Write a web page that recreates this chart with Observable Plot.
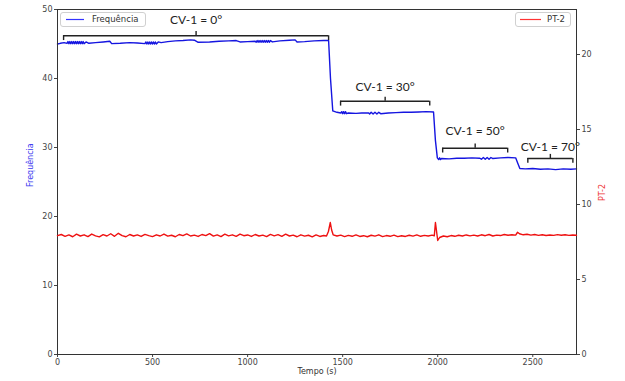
<!DOCTYPE html>
<html>
<head>
<meta charset="utf-8">
<script src="https://cdn.jsdelivr.net/npm/d3@7"></script>
<script src="https://cdn.jsdelivr.net/npm/@observablehq/plot@0.6"></script>
<style>
  body { margin: 0; background: #fff; }
  #wrap { position: relative; width: 625px; height: 381px; overflow: hidden; }
  #wrap > svg { position: absolute; left: 0; top: 0; }
  .legend { position: absolute; border: 1px solid #d0d0d0; border-radius: 3px; background: rgba(255,255,255,0.85);
            font: 8.5px "DejaVu Sans", sans-serif; color: #333; box-sizing: border-box; height: 15px; z-index: 5; }
  .legend svg { position: absolute; left: 0; top: 0; }
  .legend .lb { position: absolute; top: 1px; }
</style>
</head>
<body>
<div id="wrap"></div>
<script>
// Frequência (left axis) – [tempo (s), valor]
const frequencia = [
  [0,45.0],[15,45.1],[35,45.2],[50,45.1],[55,45.35],[60,45.05],[65,45.35],[70,45.05],[75,45.35],[80,45.05],[85,45.35],[90,45.05],
  [95,45.35],[100,45.05],[105,45.35],[110,45.05],[115,45.35],[120,45.05],[125,45.35],[130,45.05],[135,45.35],[140,45.05],[150,45.3],
  [165,45.1],[200,45.2],[240,45.3],[275,45.4],[285,45.05],[330,45.1],[380,45.2],[420,45.15],[460,45.05],[465,45.3],
  [470,45.0],[475,45.3],[480,45.0],[485,45.3],[490,45.0],[495,45.3],[500,45.0],[505,45.3],[510,45.0],[515,45.3],
  [520,45.0],[530,45.3],[545,45.2],[580,45.35],[620,45.45],[660,45.5],[700,45.6],[720,45.55],[740,45.25],[800,45.3],
  [850,45.4],[900,45.45],[940,45.5],[960,45.3],[1000,45.35],[1040,45.4],[1045,45.25],[1050,45.5],[1055,45.25],[1060,45.5],
  [1065,45.25],[1070,45.5],[1075,45.25],[1080,45.5],[1085,45.25],[1090,45.5],[1095,45.25],[1100,45.5],[1105,45.25],
  [1110,45.5],[1115,45.25],[1120,45.5],[1130,45.3],[1170,45.45],[1220,45.55],[1250,45.6],[1260,45.3],[1300,45.35],
  [1350,45.45],[1400,45.5],[1426,45.5],[1436,40.0],[1448,35.3],[1470,35.1],[1490,35.0],[1495,35.2],[1500,34.9],
  [1505,35.2],[1510,34.9],[1515,35.2],[1520,34.9],[1530,35.0],[1570,34.95],[1600,35.0],[1637,35.0],[1642,34.85],
  [1650,35.1],[1660,34.85],[1670,35.1],[1680,34.85],[1690,35.1],[1700,34.9],[1740,35.0],[1780,35.05],[1820,35.1],
  [1860,35.1],[1900,35.15],[1940,35.2],[1978,35.15],[1988,31.0],[1998,28.5],[2005,28.25],[2010,28.5],[2015,28.25],
  [2020,28.4],[2060,28.35],[2100,28.45],[2140,28.45],[2180,28.5],[2220,28.45],[2230,28.3],[2240,28.55],[2250,28.3],
  [2260,28.55],[2270,28.3],[2280,28.55],[2290,28.4],[2330,28.5],[2370,28.55],[2410,28.5],[2420,27.8],[2432,26.95],
  [2460,26.9],[2500,26.95],[2540,26.85],[2580,26.9],[2620,26.8],[2660,26.9],[2700,26.85],[2730,26.9]
];

// PT-2 (right axis) – [tempo (s), valor]
const pt2 = [
  [0,7.92],[20,8.0],[40,7.88],[60,7.97],[80,7.85],[100,8.02],[120,7.9],[140,7.98],[160,7.86],[180,8.03],[200,7.91],
  [220,7.84],[240,7.99],[260,7.9],[280,8.05],[300,7.88],[320,8.08],[340,7.92],[360,7.85],[380,8.0],[400,7.9],[420,7.97],
  [440,7.87],[460,8.01],[480,7.93],[500,7.86],[520,7.98],[540,7.9],[560,8.03],[580,7.89],[600,7.95],[620,7.85],[640,8.0],
  [660,7.92],[680,8.04],[700,7.9],[720,7.96],[740,7.87],[760,8.0],[780,7.93],[800,8.06],[820,7.89],[840,7.97],[860,7.86],
  [880,8.02],[900,7.91],[920,7.98],[940,7.88],[960,8.03],[980,7.92],[1000,7.97],[1020,7.87],[1040,8.0],[1060,7.9],
  [1080,7.96],[1100,7.86],[1120,8.01],[1140,7.91],[1160,7.99],[1180,7.88],[1200,8.02],[1220,7.9],[1240,7.96],[1260,7.85],
  [1280,7.98],[1300,7.89],[1320,7.95],[1340,7.84],[1360,7.97],[1380,7.87],[1400,7.93],[1415,7.9],[1425,8.2],[1435,8.8],
  [1442,8.3],[1450,7.98],[1470,7.9],[1490,7.96],[1510,7.86],[1530,7.94],[1550,7.88],[1570,7.97],[1590,7.87],[1610,7.92],
  [1630,7.85],[1650,7.95],[1670,7.89],[1690,7.98],[1710,7.86],[1730,7.93],[1750,7.88],[1770,7.96],[1790,7.86],[1810,7.92],
  [1830,7.87],[1850,7.95],[1870,7.89],[1890,7.97],[1910,7.88],[1930,7.94],[1950,7.9],[1970,7.96],[1982,7.92],[1988,8.8],
  [1994,8.2],[2000,7.6],[2010,7.8],[2030,7.9],[2050,7.85],[2070,7.93],[2090,7.88],[2110,7.95],[2130,7.9],[2150,7.97],
  [2170,7.91],[2190,7.96],[2210,7.9],[2230,7.98],[2250,7.92],[2270,8.0],[2290,7.9],[2310,7.96],[2330,7.93],[2350,8.0],
  [2370,7.95],[2390,7.98],[2410,7.96],[2420,8.15],[2430,8.05],[2450,7.98],[2470,8.02],[2490,7.96],[2510,8.0],[2530,7.94],
  [2550,7.98],[2570,7.93],[2590,7.97],[2610,7.94],[2630,7.99],[2650,7.95],[2670,7.98],[2690,7.94],[2710,7.97],[2730,7.95]
];

// Annotation brackets: label, start, end, bracket level, label level (left-axis units)
const bracketLabels = ["CV-1 = 0°", "CV-1 = 30°", "CV-1 = 50°", "CV-1 = 70°"];
const bracketStart  = [32, 1489, 2026, 2474];
const bracketEnd    = [1426, 1958, 2368, 2711];
const bracketLevel  = [46.2, 36.7, 29.9, 28.4];
const labelLevel    = [48.4, 38.7, 32.3, 30.1];

const leftTicks  = [0, 10, 20, 30, 40, 50];
const rightTicks = [0, 5, 10, 15, 20];
const xTicks     = [0, 500, 1000, 1500, 2000, 2500];

const brackets = bracketLabels.map((label, i) => ({
  label, x1: bracketStart[i], x2: bracketEnd[i], y: bracketLevel[i], ly: labelLevel[i],
  xm: (bracketStart[i] + bracketEnd[i]) / 2
}));

const W = 625, H = 381;
const margins = {marginLeft: 57, marginRight: 49, marginTop: 9, marginBottom: 27};
const xDomain = [0, 2730];
const baseStyle = {fontFamily: "DejaVu Sans, sans-serif", fontSize: "8px", color: "#333", background: "transparent", overflow: "visible"};

const main = Plot.plot({
  width: W, height: H, ...margins,
  style: baseStyle,
  x: {domain: xDomain},
  y: {domain: [0, 50]},
  marks: [
    Plot.axisX({ticks: xTicks, tickFormat: d => String(d), tickSize: 3, tickPadding: 2, label: null, color: "#444"}),
    Plot.axisY({ticks: leftTicks, tickFormat: d => String(d), tickSize: 3, tickPadding: 2, label: null, color: "#444"}),
    Plot.lineY(frequencia, {x: d => d[0], y: d => d[1], stroke: "#1515e0", strokeWidth: 1.4}),
    // brackets
    Plot.ruleY(brackets, {y: "y", x1: "x1", x2: "x2", stroke: "#222", strokeWidth: 1.4}),
    Plot.ruleX(brackets, {x: "x1", y1: d => d.y - 0.7, y2: "y", stroke: "#222", strokeWidth: 1.4}),
    Plot.ruleX(brackets, {x: "x2", y1: d => d.y - 0.7, y2: "y", stroke: "#222", strokeWidth: 1.4}),
    Plot.ruleX(brackets, {x: "xm", y1: "y", y2: d => d.y + 0.6, stroke: "#222", strokeWidth: 1.4}),
    Plot.text(brackets, {x: "xm", y: "ly", text: "label", fontFamily: "Lato, sans-serif", fontSize: 12, fill: "#222"}),
    Plot.text(["Frequência"], {frameAnchor: "left", rotate: -90, dx: -27, dy: 5, fill: "#3a3af0", fontSize: 8}),
    Plot.text(["Tempo (s)"], {frameAnchor: "bottom", dy: 19, fill: "#333", fontSize: 8}),
    Plot.frame({stroke: "#333", strokeWidth: 1})
  ]
});

const right = Plot.plot({
  width: W, height: H, ...margins,
  style: baseStyle,
  x: {domain: xDomain, axis: null},
  y: {domain: [0, 23], axis: null},
  marks: [
    Plot.axisY({anchor: "right", ticks: rightTicks, tickFormat: d => String(d), tickSize: 3, tickPadding: 2, label: null, color: "#444"}),
    Plot.lineY(pt2, {x: d => d[0], y: d => d[1], stroke: "#ee1111", strokeWidth: 1.4}),
    Plot.text(["PT-2"], {frameAnchor: "right", rotate: -90, dx: 26, dy: 2, fill: "#ee3333", fontSize: 8})
  ]
});

const wrap = document.getElementById("wrap");
wrap.appendChild(main);
wrap.appendChild(right);

function legend(left, top, width, color, label, swLeft, swWidth, lbLeft) {
  const d = document.createElement("div");
  d.className = "legend";
  d.style.left = left + "px"; d.style.top = top + "px"; d.style.width = width + "px";
  d.innerHTML = `<svg width="${width}" height="13"><line x1="${swLeft}" x2="${swLeft + swWidth}" y1="6.5" y2="6.5" stroke="${color}" stroke-width="1.2"/></svg>`;
  const t = document.createElement("div");
  t.className = "lb"; t.style.left = lbLeft + "px"; t.textContent = label;
  d.appendChild(t);
  wrap.appendChild(d);
}
legend(60, 12, 86, "#3333ff", "Frequência", 5, 18, 31);
legend(515, 12, 56, "#ff3333", "PT-2", 4, 21, 31);
</script>
</body>
</html>
